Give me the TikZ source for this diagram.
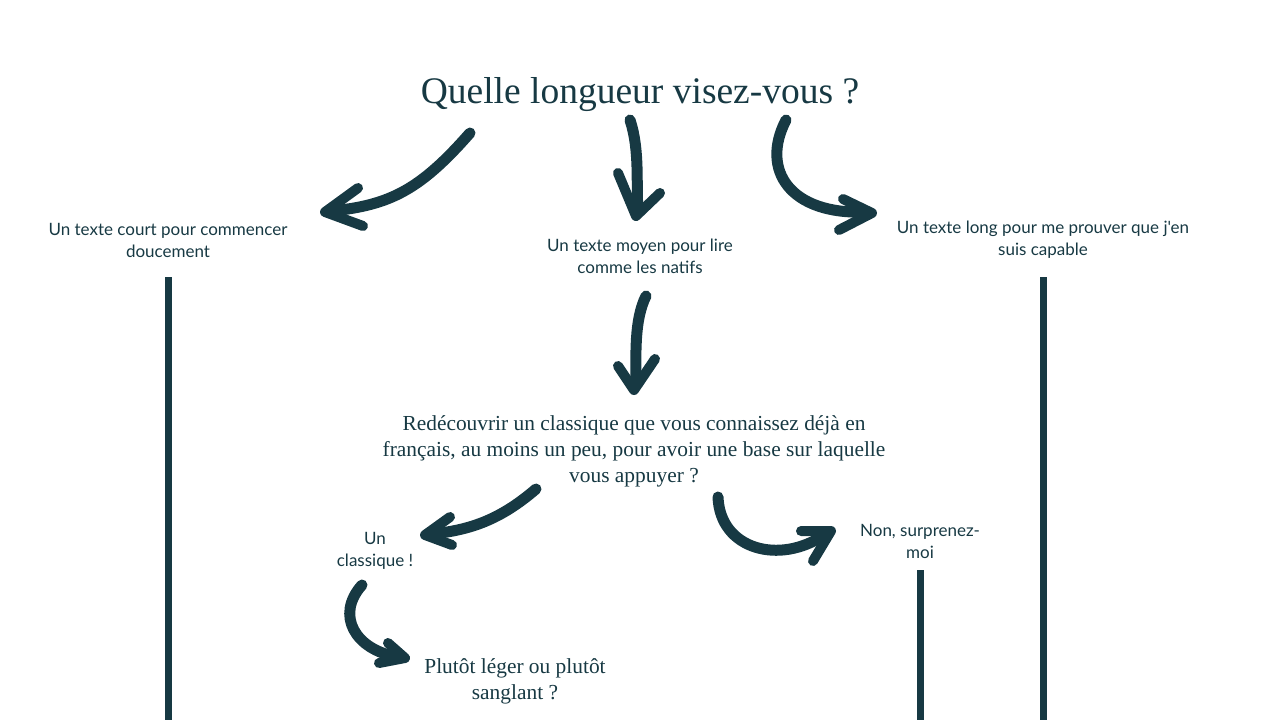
\documentclass[tikz,border=0pt]{standalone}
\usepackage{fontspec}
\setmainfont{Liberation Serif}
\newfontfamily\labelfont{Lato}
\definecolor{ink}{RGB}{23,57,67}
\begin{document}
\begin{tikzpicture}[x=1pt,y=-1pt,
  brush/.style={draw=ink,line width=11pt,line cap=round,line join=round},
  arrowhd/.style={draw=ink,line width=10pt,line cap=round,line join=round},
  bar/.style={draw=ink,line width=7pt},
  titletext/.style={text=ink,font=\fontsize{37.5}{42}\selectfont},
  question/.style={text=ink,align=center,font=\fontsize{21.4}{26}\selectfont},
  lab/.style={text=ink,align=center,font=\labelfont\fontsize{17}{22}\selectfont}]
\useasboundingbox (0,0) rectangle (1280,720);

% texts
\node[titletext] (title) at (640,95) {Quelle longueur visez-vous ?};
\node[lab] (court) at (168,240) {Un texte court pour commencer\\doucement};
\node[lab] (moyen) at (640,256) {Un texte moyen pour lire\\comme les natifs};
\node[lab] (long) at (1043,240) {Un texte long pour me prouver que j'en\\suis capable};
\node[question] (classq) at (634,451) {Redécouvrir un classique que vous connaissez déjà en\\français, au moins un peu, pour avoir une base sur laquelle\\vous appuyer ?};
\node[lab] (classique) at (375,551) {Un\\classique !};
\node[lab] (surpr) at (920,541) {Non, surprenez-\\moi};
\node[question] (leger) at (515,681) {Plutôt léger ou plutôt\\sanglant ?};

% bars
\coordinate (b1t) at (168,277); \coordinate (b1b) at (168,720);
\coordinate (b2t) at (1043,277); \coordinate (b2b) at (1043,720);
\coordinate (b3t) at (920,570); \coordinate (b3b) at (920,720);
\draw[bar] (b1t) -- (b1b);
\draw[bar] (b2t) -- (b2b);
\draw[bar] (b3t) -- (b3b);

% arrow 1: title -> court
\coordinate (a1s) at (470,133); \coordinate (a1e) at (332,211);
\draw[brush] (a1s) .. controls (420,190) and (390,205) .. (a1e);
\draw[arrowhd] (358,188) -- (325,212) -- (363,226);

% arrow 2: title -> moyen
\coordinate (a2s) at (630,120); \coordinate (a2e) at (638,210);
\draw[brush] (a2s) .. controls (640,150) and (636,185) .. (a2e);
\draw[arrowhd] (618,173) -- (636,216) -- (660,193);

% arrow 3: title -> long
\coordinate (a3s) at (786,120); \coordinate (a3e) at (866,212);
\draw[brush] (a3s) .. controls (760,170) and (790,215) .. (a3e);
\draw[arrowhd] (843,199) -- (872,213) -- (839,230);

% arrow 4: moyen -> question
\coordinate (a4s) at (646,296); \coordinate (a4e) at (636,384);
\draw[brush] (a4s) .. controls (634,320) and (636,355) .. (a4e);
\draw[arrowhd] (618,366) -- (634,390) -- (655,359);

% arrow 5: question -> classique
\coordinate (a5s) at (536,489); \coordinate (a5e) at (432,534);
\draw[brush] (a5s) .. controls (500,520) and (470,530) .. (a5e);
\draw[arrowhd] (450,517) -- (425,535) -- (452,545);

% arrow 6: question -> surprenez-moi
\coordinate (a6s) at (718,497); \coordinate (a6e) at (824,535);
\draw[brush] (a6s) .. controls (720,550) and (780,565) .. (a6e);
\draw[arrowhd] (801,531) -- (831,531) -- (813,561);

% arrow 7: classique -> leger
\coordinate (a7s) at (362,585); \coordinate (a7e) at (398,657);
\draw[brush] (a7s) .. controls (335,615) and (355,650) .. (a7e);
\draw[arrowhd] (388,643) -- (405,658) -- (379,663);
\end{tikzpicture}
\end{document}
